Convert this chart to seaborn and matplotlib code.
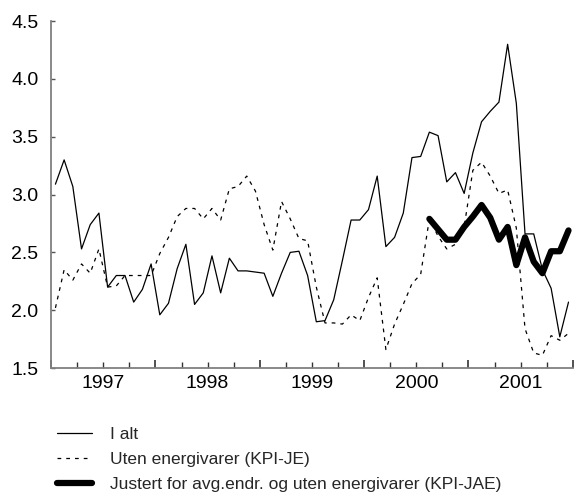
import numpy as np
import pandas as pd
import matplotlib
matplotlib.use("Agg")
import matplotlib.pyplot as plt
import seaborn as sns

# Monthly 12-month change, Jan 1997 - Dec 2001
start_year = 1997
n_months = 60

i_alt = [3.09, 3.30, 3.07, 2.53, 2.74, 2.84, 2.20, 2.30, 2.30, 2.07, 2.18, 2.40,
         1.96, 2.06, 2.36, 2.57, 2.05, 2.15, 2.47, 2.15, 2.45, 2.34, 2.34, 2.33,
         2.32, 2.12, 2.32, 2.50, 2.51, 2.30, 1.90, 1.91, 2.09, 2.43, 2.78, 2.78,
         2.87, 3.16, 2.55, 2.63, 2.84, 3.32, 3.33, 3.54, 3.51, 3.11, 3.19, 3.01,
         3.36, 3.63, 3.72, 3.80, 4.30, 3.79, 2.66, 2.66, 2.35, 2.19, 1.77, 2.07]

kpi_je = [2.02, 2.35, 2.26, 2.40, 2.32, 2.53, 2.20, 2.21, 2.30, 2.30, 2.30, 2.30,
          2.49, 2.63, 2.81, 2.88, 2.88, 2.79, 2.88, 2.78, 3.05, 3.07, 3.16, 3.03,
          2.74, 2.52, 2.94, 2.79, 2.62, 2.60, 2.20, 1.89, 1.89, 1.88, 1.96, 1.91,
          2.11, 2.28, 1.66, 1.88, 2.05, 2.23, 2.31, 2.79, 2.64, 2.53, 2.57, 2.72,
          3.21, 3.28, 3.16, 3.01, 3.04, 2.71, 1.84, 1.63, 1.61, 1.78, 1.74, 1.80]

# KPI-JAE starts August 2000
jae_start = 43
kpi_jae = [2.79, 2.70, 2.61, 2.61, 2.72, 2.81, 2.91, 2.80, 2.61, 2.72, 2.39,
           2.63, 2.42, 2.32, 2.51, 2.51, 2.69]

labels = ["I alt", "Uten energivarer (KPI-JE)",
          "Justert for avg.endr. og uten energivarer (KPI-JAE)"]
year_labels = ["1997", "1998", "1999", "2000", "2001"]

t = start_year + (np.arange(n_months) + 0.5) / 12
df = pd.DataFrame({"t": t, "ialt": i_alt, "je": kpi_je})
df_jae = pd.DataFrame({"t": t[jae_start:jae_start + len(kpi_jae)], "jae": kpi_jae})

sns.set_style("ticks")
plt.rcParams["font.family"] = ["Liberation Sans", "DejaVu Sans"]

fig = plt.figure(figsize=(5.74, 4.92), dpi=100)
ax = fig.add_axes([0.089, 0.252, 0.909, 0.705])

sns.lineplot(data=df, x="t", y="ialt", ax=ax, color="black", lw=0.9, label=labels[0])
sns.lineplot(data=df, x="t", y="je", ax=ax, color="black", lw=0.9, label=labels[1])
sns.lineplot(data=df_jae, x="t", y="jae", ax=ax, color="black", lw=4.5,
             label=labels[2])
ax.lines[1].set_dashes([3, 4])

ax.set_xlim(start_year, start_year + 5)
ax.set_ylim(1.5, 4.5)
ax.set_xlabel("")
ax.set_ylabel("")

yticks = np.arange(1.5, 4.51, 0.5)
ax.set_yticks(yticks, labels=[f"{v:.1f}" for v in yticks])

years = np.arange(start_year, start_year + 6)
ax.set_xticks(years, labels=[""] * len(years))
quarters = [y + q / 4 for y in range(start_year, start_year + 5) for q in (1, 2, 3)]
qlabels = [year_labels[int(q) - start_year] if (q % 1) == 0.5 else "" for q in quarters]
ax.set_xticks(quarters, labels=qlabels, minor=True)

ax.tick_params(axis="y", direction="in", length=3, width=1, colors="#555555",
               labelcolor="black", labelsize=14, pad=9)
ax.tick_params(axis="x", which="major", direction="in", length=6, width=1.2,
               colors="#333333")
ax.tick_params(axis="x", which="minor", direction="in", length=4, width=1,
               colors="#333333", labelcolor="black", labelsize=14, pad=5)

sns.despine(ax=ax)
for side in ("left", "bottom"):
    ax.spines[side].set_color("#808080")
    ax.spines[side].set_linewidth(1.3)

handles, labs = ax.get_legend_handles_labels()
ax.get_legend().remove()
fig.legend(handles, labs, loc="upper left", bbox_to_anchor=(0.1, 0.133),
           frameon=False, fontsize=12.5, handlelength=2.0, handletextpad=1.03,
           labelspacing=0.58, borderpad=0, borderaxespad=0)

fig.savefig("out.png", dpi=100)
